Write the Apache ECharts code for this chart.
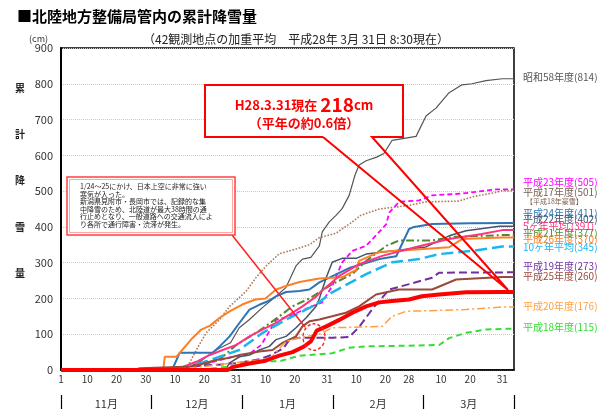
<!DOCTYPE html>
<html>
<head>
<meta charset="utf-8">
<title>北陸地方整備局管内の累計降雪量</title>
<script src="https://cdn.jsdelivr.net/npm/echarts@6/dist/echarts.min.js"></script>
<style>
  html, body { margin: 0; padding: 0; background: #fff; }
  #chart { width: 611px; height: 409px; }
</style>
</head>
<body>
<div id="chart"></div>
<script>
// day index: 0 = 11/1 ... 151 = 3/31
var tickDays   = [0, 9, 19, 29, 39, 49, 60, 70, 80, 91, 101, 111, 119, 130, 140, 151];
var tickLabels = ['1','10','20','30','10','20','31','10','20','31','10','20','28','10','20','31'];
var months = ['11月', '12月', '1月', '2月', '3月'];

// 各年度の累計降雪量 [日, cm]
var s58 = [[0,0],[40,0],[42,3],[47,20],[53,56],[58,76],[61,118],[64.5,141],[69,175],[73.6,206],[77,231],[80.4,291],[82.6,310],[85.5,315],[88.4,347],[89.4,386],[91.8,414],[94.1,432],[96.2,451],[98.6,488],[100.6,545],[102,573],[104.4,585],[108,595],[110.5,605],[113.3,642],[121.5,653],[124.9,710],[128.3,732],[132.8,775],[137.2,797],[140.6,800],[145.4,809],[151,814],[155,814]];
var h17 = [[0,0],[42,0],[44,20],[46.3,56],[49.7,104],[54.3,141],[57.7,178],[61.1,203],[63.4,221],[66.8,259],[70.2,291],[74.7,325],[80.4,338],[85,350],[88.4,370],[94,382],[99,410],[102.5,432],[108.9,450],[119,460],[124.9,470],[136,472],[141.3,485],[148,495],[151,501],[155,501]];
var h23 = [[0,0],[42,0],[44,5],[57.7,35],[61,40],[64.5,45],[68.5,70],[73.6,140],[78,150],[85,175],[89.4,189],[92.8,235],[96.2,301],[99.7,333],[104.4,347],[108.9,386],[111.3,408],[112.3,440],[115.7,470],[122.5,474],[127,488],[137.2,493],[142,498],[148.8,505],[155,505]];
var h24 = [[0,0],[38,0],[40.6,48],[51.9,48],[54.3,66],[57.7,94],[61.1,132],[64.5,169],[68,183],[70.2,190],[73.6,206],[77,218],[81.6,221],[85,225],[88.4,245],[98.6,285],[108.9,310],[114.7,318],[119.1,394],[120.8,400],[127,408],[140,410],[155,411]];
var h22 = [[0,0],[55,0],[56.6,5],[57.7,20],[61.1,37],[64.5,42],[67.9,56],[71.3,66],[73.6,85],[77,94],[80.4,118],[83.9,146],[87.3,178],[88.4,200],[90.8,259],[92.8,301],[96.2,312],[101,312],[104.4,324],[124.9,344],[132.8,375],[138.6,389],[150,402],[155,402]];
var avg5 = [[0,0],[25,0],[35,2],[40.6,5],[46.3,23],[50.9,42],[55.3,56],[60,70],[64.5,94],[68.9,113],[73.6,132],[78.2,155],[82.6,178],[87.3,205],[88.4,215],[95.2,263],[102,296],[109.9,319],[121.5,344],[132.8,366],[144,380],[151,391],[155,391]];
var h21 = [[0,0],[44,0],[45,5],[54.3,30],[60,70],[67.9,110],[74.7,150],[79.2,178],[85,200],[92.8,240],[99.7,268],[104.4,305],[111.3,347],[115.7,362],[127,362],[133.8,372],[151,377],[155,377]];
var h26 = [[0,0],[35,0],[35.5,37],[39.5,37],[44.5,85],[48,113],[51,124],[54.3,146],[57.7,164],[62,183],[66.5,197],[70,200],[73.6,225],[77,235],[81.6,246],[88.4,256],[96.2,259],[101,280],[102,305],[108.9,330],[115,333],[132.8,343],[137.2,366],[151,370],[155,370]];
var avg10 = [[0,0],[30,0],[42,5],[50,25],[61,56],[69,104],[78.2,146],[87.3,183],[92.8,217],[104.4,268],[113.3,301],[122.5,310],[129.4,324],[140.6,333],[151,345],[155,345]];
var h19 = [[0,0],[42,0],[44,10],[54,15],[61,20],[67.9,30],[71.3,40],[76,60],[78.2,85],[81.6,90],[92.8,90],[98.6,92],[102,120],[106.5,170],[112.3,225],[119.1,240],[127,258],[129.4,272],[155,273]];
var h25 = [[0,0],[25,0],[27,5],[45,10],[53.1,28],[57.7,34],[61.1,42],[67.9,52],[72.4,56],[75.8,76],[80.4,94],[82.6,122],[85,136],[88.4,141],[92.8,150],[97.5,160],[102,178],[107.8,211],[115.7,225],[127,225],[135.2,253],[151,260],[155,260]];
var h20 = [[0,0],[40,0],[44,5],[54.3,15],[64.5,25],[71.3,30],[77,80],[81.6,90],[88.4,100],[92.8,118],[109.9,122],[113.3,150],[118.1,164],[138.6,169],[151,176],[155,176]];
var h18 = [[0,0],[47,0],[57.7,10],[66.8,23],[75,25],[81.6,40],[92.8,47],[98.6,62],[104.4,66],[119.1,68],[129.4,70],[132.8,89],[138.6,104],[145.4,113],[151,115],[155,115]];
var h27 = [[0,0],[57,0],[58.7,8],[64.5,18],[69.5,25],[74.7,40],[79.2,50],[83,65],[85.5,80],[87.5,110],[90.8,122],[95.2,140],[99.7,160],[104.4,178],[108.9,189],[113.3,193],[119.1,197],[123.5,206],[129.4,211],[138.6,217],[151,218],[155,218]];

var endLabels = [
  ['昭和58年度(814)', '#555555', 77],
  ['平成23年度(505)', '#ff00ff', 182],
  ['平成17年度(501)', '#7a5e50', 192],
  ['平成24年度(411)', '#2e75b6', 213],
  ['平成22年度(402)', '#44546a', 219],
  ['5ヶ年平均 (391)', '#ff3380', 226],
  ['平成21年度(377)', '#4f8a2a', 233],
  ['平成26年度(370)', '#ff7f27', 239],
  ['10ヶ年平均(345)', '#1ab6f0', 247],
  ['平成19年度(273)', '#7030a0', 266],
  ['平成25年度(260)', '#984a3c', 276],
  ['平成20年度(176)', '#ffa040', 306],
  ['平成18年度(115)', '#33dd33', 327]
];

var FONT = '"Noto Sans CJK JP", sans-serif';

function line(name, data, color, width, type) {
  return {
    name: name, type: 'line', data: data, symbol: 'none',
    lineStyle: { color: color, width: width, type: type || 'solid' },
    itemStyle: { color: color }
  };
}

var graphics = [
  { type: 'text', left: 17, top: 9, style: { text: '■北陸地方整備局管内の累計降雪量', font: 'bold 15px ' + FONT, fill: '#000' } },
  { type: 'text', left: 29, top: 34, style: { text: '(cm)', font: '9px ' + FONT, fill: '#333' } },
  { type: 'text', x: 296, y: 39, style: { text: '（42観測地点の加重平均　平成28年 3月 31日 8:30現在）', font: '12px ' + FONT, fill: '#222', align: 'center', verticalAlign: 'middle' } }
];
'累計降雪量'.split('').forEach(function (ch, i) {
  graphics.push({ type: 'text', x: 20, y: 88 + i * 46.3, style: { text: ch, font: 'bold 10px ' + FONT, fill: '#222', align: 'center', verticalAlign: 'middle' } });
});
endLabels.forEach(function (l) {
  graphics.push({ type: 'text', x: 523, y: l[2], style: { text: l[0], font: '10px ' + FONT, fill: l[1], verticalAlign: 'middle' } });
});
graphics.push({ type: 'text', x: 526, y: 201, style: { text: '【平成18年豪雪】', font: '7px ' + FONT, fill: '#7a5e50', verticalAlign: 'middle' } });

// 吹き出し（現在値）: 白地の枠 + 引き出し線
graphics.push({ type: 'rect', z: 100, shape: { x: 205, y: 85, width: 198, height: 52 }, style: { fill: '#fff' } });
graphics.push({
  type: 'polyline', z: 101,
  shape: { points: [[323,137],[205,137],[205,85],[403,85],[403,137],[372,137],[508,290],[323,137]] },
  style: { fill: 'none', stroke: '#ff0000', lineWidth: 2 }
});
graphics.push({ type: 'text', z: 102, x: 304, y: 105, style: {
  text: '{a|H28.3.31現在 }{b|218}{a|cm}', align: 'center', verticalAlign: 'middle', fill: '#ff0000',
  rich: { a: { font: 'bold 13px ' + FONT, fill: '#ff0000' }, b: { font: 'bold 19px ' + FONT, fill: '#ff0000' } }
} });
graphics.push({ type: 'text', z: 102, x: 304, y: 123, style: { text: '（平年の約0.6倍）', font: 'bold 13px ' + FONT, fill: '#ff0000', align: 'center', verticalAlign: 'middle' } });

// 注記（1/24～25）
graphics.push({ type: 'line', z: 100, shape: { x1: 232, y1: 235, x2: 305, y2: 327 }, style: { stroke: '#ff2020', lineWidth: 1.5 } });
graphics.push({ type: 'rect', z: 100, shape: { x: 67, y: 177, width: 168, height: 58 }, style: { fill: '#fff', stroke: '#ff4040', lineWidth: 1.5 } });
graphics.push({ type: 'rect', z: 100, shape: { x: 69.5, y: 179.5, width: 163, height: 53 }, style: { fill: 'none', stroke: '#ff9090', lineWidth: 0.8 } });
graphics.push({ type: 'text', z: 101, x: 80, y: 183, style: {
  text: '1/24～25にかけ、日本上空に非常に強い\n寒気が入った。\n新潟県見附市・長岡市では、記録的な集\n中降雪のため、北陸道が最大38時間の通\n行止めとなり、一般道路への交通流入によ\nり各所で通行障害・渋滞が発生。',
  font: '7px ' + FONT, fill: '#222', lineHeight: 7.5
} });
graphics.push({ type: 'circle', z: 100, x: 314, y: 337, scaleY: 1.2, shape: { cx: 0, cy: 0, r: 11 }, style: { fill: 'none', stroke: '#ff2020', lineWidth: 1.3, lineDash: [3, 2] } });

var chart = echarts.init(document.getElementById('chart'));
chart.setOption({
  animation: false,
  textStyle: { fontFamily: FONT },
  grid: { left: 61, right: 97, top: 48, bottom: 38, show: true, borderColor: '#000', borderWidth: 1.5 },
  xAxis: [{
    type: 'value', min: 0, max: 155,
    axisLine: { show: true, lineStyle: { color: '#000', width: 1.5 } },
    axisTick: { show: false },
    splitLine: { show: false },
    axisLabel: {
      customValues: tickDays, fontSize: 10, color: '#333', margin: 4,
      formatter: function (v) { var i = tickDays.indexOf(v); return i >= 0 ? tickLabels[i] : ''; }
    }
  }, {
    type: 'category', data: months, position: 'bottom', offset: 25,
    axisLine: { show: false },
    axisTick: { show: true, length: 14, interval: 0, lineStyle: { color: '#000', width: 1.2 } },
    axisLabel: { fontSize: 11, color: '#333', margin: 3 },
    splitLine: { show: false }
  }],
  yAxis: {
    type: 'value', min: 0, max: 900, interval: 100,
    axisLine: { show: true, lineStyle: { color: '#000', width: 2 } },
    axisTick: { show: false },
    axisLabel: { fontSize: 11, color: '#333', margin: 8 },
    splitLine: { lineStyle: { color: '#c8c8c8', type: 'dotted' } }
  },
  graphic: graphics,
  series: [
    line('昭和58年度', s58, '#555555', 1.2),
    line('平成17年度', h17, '#b07a58', 1.6, 'dotted'),
    line('平成23年度', h23, '#ff00ff', 1.8, [5, 3]),
    line('平成24年度', h24, '#2e75b6', 2),
    line('平成22年度', h22, '#44546a', 1.5),
    line('平成21年度', h21, '#4f8a2a', 2, [8, 3, 2, 3]),
    line('平成26年度', h26, '#ff7f27', 2),
    line('5ヶ年平均', avg5, '#ff3380', 2),
    line('10ヶ年平均', avg10, '#1ab6f0', 2.5, [12, 5]),
    line('平成19年度', h19, '#7030a0', 2, [8, 4]),
    line('平成25年度', h25, '#984a3c', 2),
    line('平成20年度', h20, '#ffa040', 1.5, [8, 3, 2, 3]),
    line('平成18年度', h18, '#33dd33', 2, [6, 4]),
    line('平成27年度', h27, '#ff0000', 4)
  ]
});
</script>
</body>
</html>
